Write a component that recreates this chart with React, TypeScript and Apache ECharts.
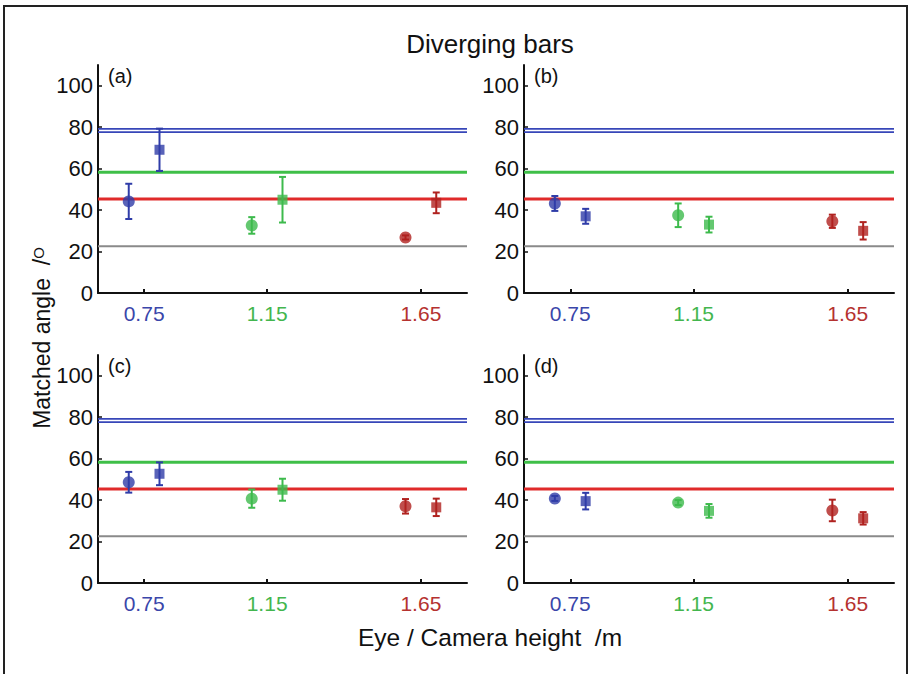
import React, { useEffect, useRef } from "react";
import * as echarts from "echarts";

// ---------- data ----------
const heights = [0.75, 1.15, 1.65];
const heightLabels = ["0.75", "1.15", "1.65"];
const yTicks = [0, 20, 40, 60, 80, 100];
const panelNames = ["(a)", "(b)", "(c)", "(d)"];

// reference angles (horizontal lines)
const blueLineA = 77.6;
const blueLineB = 79.2;
const greenLine = 58.2;
const redLine = 45.3;
const grayLine = 22.5;

// circle / square means and errors per panel, in order 0.75, 1.15, 1.65
const circleMeanA = [44.2, 32.6, 26.8];
const circleErrA = [8.5, 4.0, 1.0];
const squareMeanA = [69.1, 45.0, 43.5];
const squareErrA = [10.2, 11.0, 5.0];

const circleMeanB = [43.2, 37.5, 34.6];
const circleErrB = [3.6, 5.7, 3.2];
const squareMeanB = [37.0, 33.0, 30.0];
const squareErrB = [3.6, 3.8, 4.2];

const circleMeanC = [48.6, 40.7, 37.0];
const circleErrC = [5.0, 4.4, 3.5];
const squareMeanC = [52.7, 45.0, 36.5];
const squareErrC = [5.5, 5.3, 4.2];

const circleMeanD = [40.8, 38.8, 35.0];
const circleErrD = [1.2, 1.2, 5.2];
const squareMeanD = [39.5, 34.8, 31.2];
const squareErrD = [4.0, 3.3, 3.0];

const circleMeans = [circleMeanA, circleMeanB, circleMeanC, circleMeanD];
const circleErrs = [circleErrA, circleErrB, circleErrC, circleErrD];
const squareMeans = [squareMeanA, squareMeanB, squareMeanC, squareMeanD];
const squareErrs = [squareErrA, squareErrB, squareErrC, squareErrD];

// ---------- style ----------
const markerColors = ["#2f3ca8", "#3dba4c", "#b0221f"];
const labelColors = ["#3a46aa", "#43b64e", "#b53230"];
const FONT = "'Liberation Sans', Arial, Helvetica, sans-serif";
const OFFSET = 0.05;
const XMIN = 0.6;
const XMAX = 1.8;

const grids = [
  { left: 98, top: 65, width: 369, height: 228 },
  { left: 524, top: 65, width: 370, height: 228 },
  { left: 98, top: 355, width: 369, height: 228 },
  { left: 524, top: 355, width: 370, height: 228 },
];

export default function App() {
  const ref = useRef<HTMLDivElement>(null);

  useEffect(() => {
    if (!ref.current) return;
    const chart = echarts.init(ref.current, null, { renderer: "svg" });

    const xAxes: any[] = [];
    const yAxes: any[] = [];
    const series: any[] = [];
    const graphics: any[] = [];

    grids.forEach((g, i) => {
      xAxes.push({
        gridIndex: i,
        type: "value",
        min: XMIN,
        max: XMAX,
        axisLine: { show: true, onZero: false, lineStyle: { color: "#111", width: 2 } },
        axisTick: {
          show: true,
          inside: true,
          length: 4,
          customValues: heights,
          lineStyle: { color: "#111", width: 2 },
        },
        splitLine: { show: false },
        axisLabel: {
          customValues: heights,
          margin: 10,
          formatter: (v: number) => {
            const k = heights.findIndex((h) => Math.abs(h - v) < 1e-6);
            return `{c${k}|${heightLabels[k]}}`;
          },
          rich: {
            c0: { color: labelColors[0], fontSize: 21, fontFamily: FONT },
            c1: { color: labelColors[1], fontSize: 21, fontFamily: FONT },
            c2: { color: labelColors[2], fontSize: 21, fontFamily: FONT },
          },
        },
      });
      yAxes.push({
        gridIndex: i,
        type: "value",
        min: 0,
        max: 110,
        axisLine: { show: true, lineStyle: { color: "#111", width: 2 } },
        axisTick: {
          show: true,
          inside: true,
          length: 4,
          customValues: yTicks,
          lineStyle: { color: "#111", width: 1.5 },
        },
        splitLine: { show: false },
        axisLabel: {
          customValues: yTicks,
          margin: 5,
          color: "#111",
          fontSize: 22,
          fontFamily: FONT,
        },
      });

      const refLines = [
        { v: grayLine, color: "#8a8a8a", w: 2 },
        { v: redLine, color: "#e02a2a", w: 3 },
        { v: greenLine, color: "#3fbf48", w: 3 },
        { v: blueLineA, color: "#3746b8", w: 1.6 },
        { v: blueLineB, color: "#3746b8", w: 1.6 },
      ];
      refLines.forEach((r) => {
        series.push({
          type: "line",
          xAxisIndex: i,
          yAxisIndex: i,
          data: [
            [XMIN, r.v],
            [XMAX, r.v],
          ],
          symbol: "none",
          lineStyle: { color: r.color, width: r.w },
          silent: true,
          z: 1,
        });
      });

      const errData: any[] = [];
      heights.forEach((h, k) => {
        const cm = circleMeans[i][k];
        const ce = circleErrs[i][k];
        const sm = squareMeans[i][k];
        const se = squareErrs[i][k];
        errData.push([h - OFFSET, cm - ce, cm + ce, k]);
        errData.push([h + OFFSET, sm - se, sm + se, k]);
      });
      series.push({
        type: "custom",
        xAxisIndex: i,
        yAxisIndex: i,
        data: errData,
        encode: { x: 0, y: [1, 2] },
        z: 3,
        renderItem: (params: any, api: any) => {
          const x = api.value(0);
          const lo = api.value(1);
          const hi = api.value(2);
          const color = markerColors[api.value(3)];
          const pLo = api.coord([x, lo]);
          const pHi = api.coord([x, hi]);
          const cw = 3.5;
          const style = { stroke: color, lineWidth: 2 };
          return {
            type: "group",
            children: [
              { type: "line", shape: { x1: pLo[0], y1: pLo[1], x2: pHi[0], y2: pHi[1] }, style },
              { type: "line", shape: { x1: pLo[0] - cw, y1: pLo[1], x2: pLo[0] + cw, y2: pLo[1] }, style },
              { type: "line", shape: { x1: pHi[0] - cw, y1: pHi[1], x2: pHi[0] + cw, y2: pHi[1] }, style },
            ],
          };
        },
      });

      series.push({
        type: "scatter",
        xAxisIndex: i,
        yAxisIndex: i,
        symbol: "circle",
        symbolSize: 12,
        z: 5,
        data: heights.map((h, k) => ({
          value: [h - OFFSET, circleMeans[i][k]],
          itemStyle: { color: markerColors[k] },
        })),
      });
      series.push({
        type: "scatter",
        xAxisIndex: i,
        yAxisIndex: i,
        symbol: "rect",
        symbolSize: 10,
        z: 5,
        data: heights.map((h, k) => ({
          value: [h + OFFSET, squareMeans[i][k]],
          itemStyle: { color: markerColors[k] },
        })),
      });

      graphics.push({
        type: "text",
        left: g.left + 10,
        top: g.top + 1,
        style: { text: panelNames[i], fontSize: 20, fontFamily: FONT, fill: "#111" },
      });
    });

    graphics.push({
      type: "rect",
      shape: { x: 4, y: 6, width: 903, height: 700 },
      style: { fill: "none", stroke: "#222", lineWidth: 2 },
      silent: true,
    });
    graphics.push({
      type: "text",
      x: 490,
      y: 44,
      style: {
        text: "Diverging bars",
        fontSize: 26,
        fontFamily: FONT,
        fill: "#111",
        textAlign: "center",
        textVerticalAlign: "middle",
      },
    });
    graphics.push({
      type: "text",
      x: 490,
      y: 637,
      style: {
        text: "Eye / Camera height  /m",
        fontSize: 24.5,
        fontFamily: FONT,
        fill: "#111",
        textAlign: "center",
        textVerticalAlign: "middle",
      },
    });
    graphics.push({
      type: "text",
      x: 42,
      y: 338,
      rotation: Math.PI / 2,
      style: {
        text: "Matched angle  /{s|O}",
        fontSize: 23,
        fontFamily: FONT,
        fill: "#111",
        textAlign: "center",
        textVerticalAlign: "middle",
        rich: {
          s: { fontSize: 15, fontFamily: FONT, fill: "#111", verticalAlign: "top" },
        },
      },
    });

    chart.setOption({
      animation: false,
      backgroundColor: "#ffffff",
      grid: grids.map((g) => ({ ...g, containLabel: false })),
      xAxis: xAxes,
      yAxis: yAxes,
      series,
      graphic: graphics,
    });

    return () => chart.dispose();
  }, []);

  return (
    <div
      ref={ref}
      style={{ position: "fixed", left: 0, top: 0, width: 911, height: 674, background: "#fff" }}
    />
  );
}
